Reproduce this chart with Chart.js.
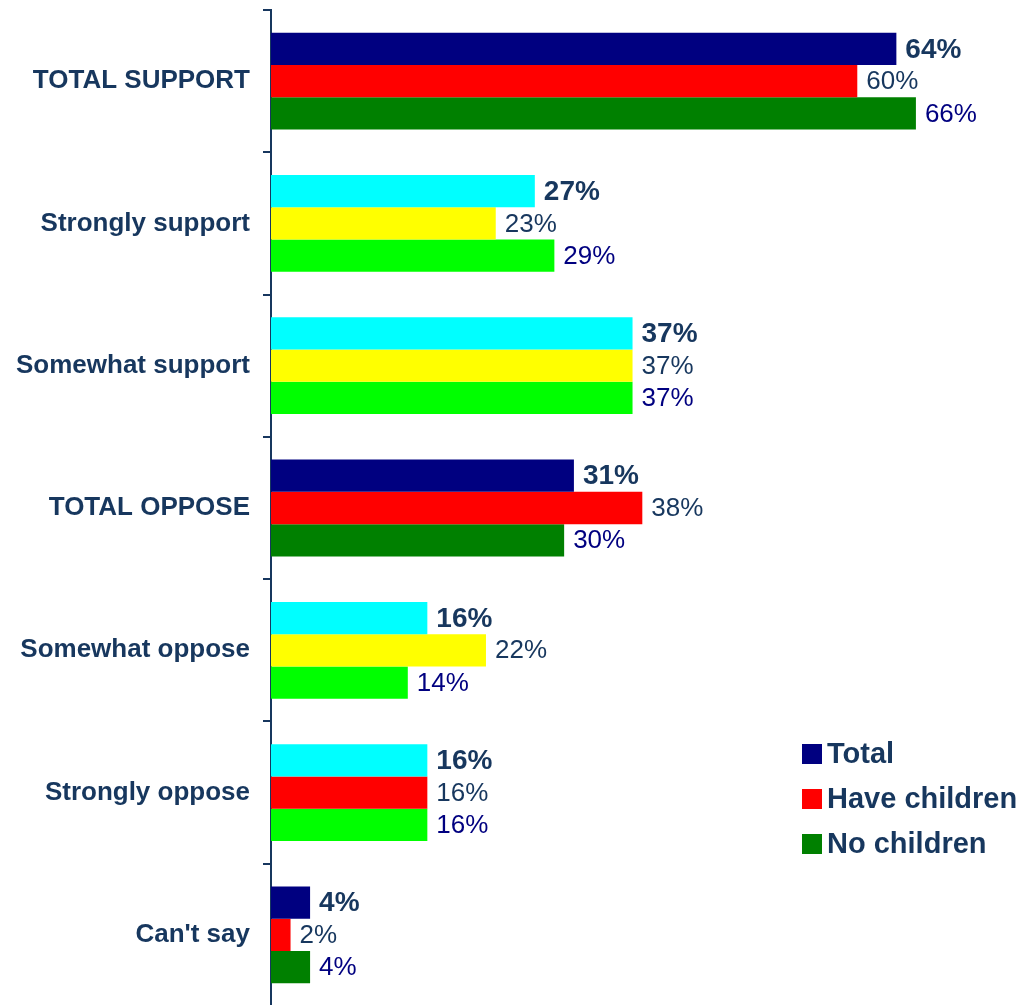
<!DOCTYPE html>
<html>
<head>
<meta charset="utf-8">
<script src="https://cdn.jsdelivr.net/npm/chart.js@4"></script>
<style>
  html, body { margin: 0; padding: 0; background: #fff; overflow: hidden; }
</style>
</head>
<body>
<canvas id="support-graph" width="1025" height="1012"></canvas>
<script>

const categories = ['TOTAL SUPPORT', 'Strongly support', 'Somewhat support', 'TOTAL OPPOSE', 'Somewhat oppose', 'Strongly oppose', "Can't say"];
const seriesNames = ['Total', 'Have children', 'No children'];
const totalValues = [64, 27, 37, 31, 16, 16, 4];
const haveChildrenValues = [60, 23, 37, 38, 22, 16, 2];
const noChildrenValues = [66, 29, 37, 30, 14, 16, 4];

const navy = '#000080';
const red = '#FF0000';
const green = '#008000';
const cyan = '#00FFFF';
const yellow = '#FFFF00';
const lime = '#00FF00';
const textBlue = '#17375E';

// bar colours change from row to row, like the original
const totalColors = [navy, cyan, cyan, navy, cyan, cyan, navy];
const haveColors = [red, yellow, yellow, red, yellow, red, red];
const noColors = [green, lime, lime, green, lime, lime, green];

const labelColors = [textBlue, textBlue, navy];
const legendColors = [navy, red, green];

const valueLabels = {
  id: 'valueLabels',
  afterDatasetsDraw(chart) {
    const ctx = chart.ctx;
    ctx.save();
    ctx.textBaseline = 'middle';
    ctx.textAlign = 'left';
    chart.data.datasets.forEach((ds, i) => {
      const meta = chart.getDatasetMeta(i);
      ctx.fillStyle = labelColors[i];
      ctx.font = (i === 0 ? 'bold 28px' : '26px') + ' "Liberation Sans", Arial, sans-serif';
      meta.data.forEach((bar, j) => {
        ctx.fillText(ds.data[j] + '%', bar.x + 9, bar.y + 1);
      });
    });
    ctx.restore();
  }
};

const sideLegend = {
  id: 'sideLegend',
  afterDraw(chart) {
    const ctx = chart.ctx;
    ctx.save();
    ctx.font = 'bold 29px "Liberation Sans", Arial, sans-serif';
    ctx.textBaseline = 'middle';
    ctx.textAlign = 'left';
    seriesNames.forEach((name, i) => {
      const y = 754 + i * 45;
      ctx.fillStyle = legendColors[i];
      ctx.fillRect(802, y - 10, 20, 20);
      ctx.fillStyle = textBlue;
      ctx.fillText(name, 827, y + 1);
    });
    ctx.restore();
  }
};

const supportChart = document.querySelector('#support-graph');

const supportData = {
  labels: categories,
  datasets: [
    { label: seriesNames[0], data: totalValues, backgroundColor: totalColors },
    { label: seriesNames[1], data: haveChildrenValues, backgroundColor: haveColors },
    { label: seriesNames[2], data: noChildrenValues, backgroundColor: noColors }
  ]
};

const supportOptions = {
  indexAxis: 'y',
  responsive: false,
  animation: false,
  layout: {
    padding: { top: 10, bottom: 6, left: 0, right: 70 }
  },
  datasets: {
    bar: {
      categoryPercentage: 0.68,
      barPercentage: 1.0,
      borderWidth: 0
    }
  },
  scales: {
    x: {
      display: false,
      min: 0,
      max: 70
    },
    y: {
      afterFit(scale) {
        scale.width = 271;
        scale.paddingTop = 0;
        scale.paddingBottom = 0;
      },
      border: {
        display: true,
        color: textBlue,
        width: 2
      },
      grid: {
        offset: true,
        drawOnChartArea: false,
        drawTicks: true,
        tickLength: 8,
        color: textBlue,
        lineWidth: 2
      },
      ticks: {
        padding: 13,
        color: textBlue,
        font: {
          family: '"Liberation Sans", Arial, sans-serif',
          weight: 'bold',
          size: 26
        }
      }
    }
  },
  plugins: {
    legend: { display: false },
    tooltip: { enabled: false }
  }
};

const supportBarChart = new Chart(supportChart, {
  type: 'bar',
  data: supportData,
  options: supportOptions,
  plugins: [valueLabels, sideLegend]
});

</script>
</body>
</html>
